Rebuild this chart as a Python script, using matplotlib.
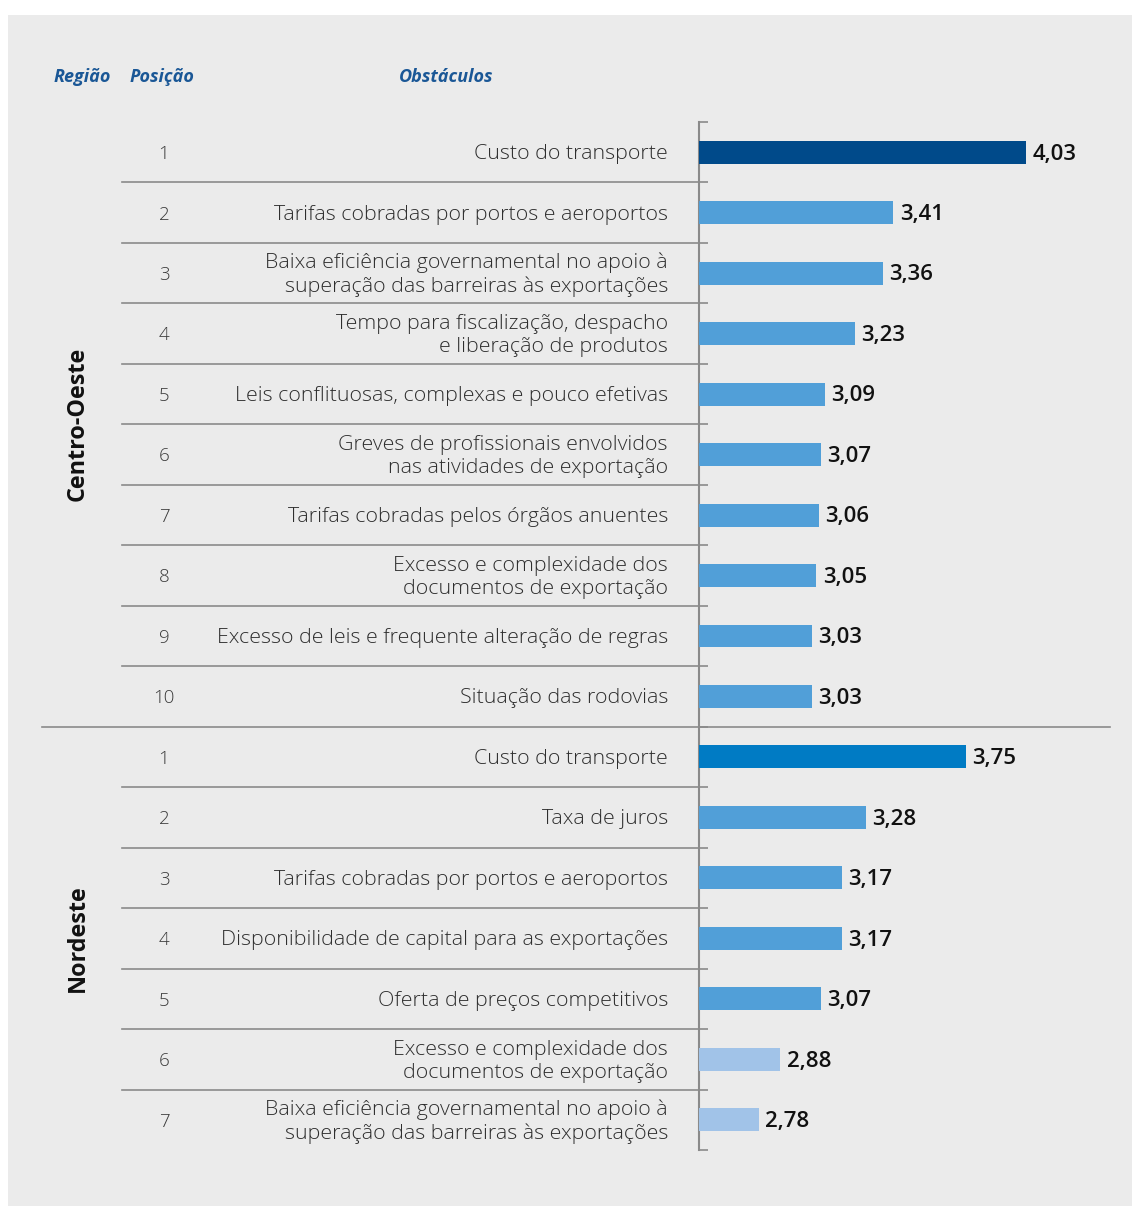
import matplotlib.pyplot as plt
import matplotlib.patches as patches
import matplotlib.transforms as transforms
from matplotlib.lines import Line2D

plt.rcParams['font.family'] = ['Open Sans', 'DejaVu Sans']

# Data
regions = ['Centro-Oeste', 'Nordeste']
region_sizes = [10, 7]
positions = ['1', '2', '3', '4', '5', '6', '7', '8', '9', '10',
             '1', '2', '3', '4', '5', '6', '7']
obstacles = [
    'Custo do transporte',
    'Tarifas cobradas por portos e aeroportos',
    'Baixa eficiência governamental no apoio à\nsuperação das barreiras às exportações',
    'Tempo para fiscalização, despacho\ne liberação de produtos',
    'Leis conflituosas, complexas e pouco efetivas',
    'Greves de profissionais envolvidos\nnas atividades de exportação',
    'Tarifas cobradas pelos órgãos anuentes',
    'Excesso e complexidade dos\ndocumentos de exportação',
    'Excesso de leis e frequente alteração de regras',
    'Situação das rodovias',
    'Custo do transporte',
    'Taxa de juros',
    'Tarifas cobradas por portos e aeroportos',
    'Disponibilidade de capital para as exportações',
    'Oferta de preços competitivos',
    'Excesso e complexidade dos\ndocumentos de exportação',
    'Baixa eficiência governamental no apoio à\nsuperação das barreiras às exportações',
]
values = [4.03, 3.41, 3.36, 3.23, 3.09, 3.07, 3.06, 3.05, 3.03, 3.03,
          3.75, 3.28, 3.17, 3.17, 3.07, 2.88, 2.78]
colors = ['#004a8a'] + ['#519fd8'] * 9 + ['#007bc4'] + ['#519fd8'] * 4 + ['#a1c3e8'] * 2

W, H = 1132, 1206
fig = plt.figure(figsize=(W / 100, H / 100), dpi=100, facecolor='white')
fig.patches.append(patches.Rectangle((8 / W, 0), 1, 1 - 15 / H, transform=fig.transFigure,
                                     facecolor='#ebebeb', edgecolor='none', zorder=-10))

ax_left = 699 / W
ax_right = (699 + 2.0 * 213.6) / W
ax_top = 1 - 122 / H
ax_bot = 1 - 1150 / H
ax = fig.add_axes([ax_left, ax_bot, ax_right - ax_left, ax_top - ax_bot])
ax.set_facecolor('none')

n = len(values)
ypos = [i + 0.5 for i in range(n)]
dy = 0.03  # small downward nudge for text
ax.barh(ypos, [v - 2.5 for v in values], left=2.5, height=0.38, color=colors, zorder=3)
for y, v in zip(ypos, values):
    ax.text(v + 0.03, y + dy, f'{v:.2f}'.replace('.', ','), va='center', ha='left',
            fontsize=16, fontweight='semibold', color='#111111')

ax.set_xlim(2.5, 4.5)
ax.set_ylim(n, 0)
for s in ['top', 'right', 'bottom']:
    ax.spines[s].set_visible(False)
ax.spines['left'].set_color('#8a8a8a')
ax.spines['left'].set_linewidth(1.5)
ax.set_xticks([])
ax.set_yticks(range(n + 1))
ax.set_yticklabels([])
ax.tick_params(axis='y', direction='in', length=6.5, width=1.2, color='#8a8a8a')

trans = transforms.blended_transform_factory(fig.transFigure, ax.transData)
for i, y in enumerate(ypos):
    ax.text(164 / W, y + dy, positions[i], transform=trans, ha='center', va='center',
            fontsize=13.5, fontweight='light', color='#3a3a3a')
    ax.text(668 / W, y + dy, obstacles[i], transform=trans, ha='right', va='center',
            fontsize=15.4, fontweight='light', color='#2e2e2e', linespacing=1.2)

# separator lines
start = 0
for gi, size in enumerate(region_sizes):
    for k in range(1, size):
        b = start + k
        fig.add_artist(Line2D([122 / W, ax_left], [b, b], transform=trans,
                              color='#8a8a8a', lw=1.2))
    start += size
    if gi < len(region_sizes) - 1:
        fig.add_artist(Line2D([42 / W, 1110 / W], [start, start], transform=trans,
                              color='#8a8a8a', lw=1.2))

# region labels
start = 0
for name, size in zip(regions, region_sizes):
    ax.text(78 / W, start + size / 2, name, transform=trans, rotation=90,
            ha='center', va='center', fontsize=16.8, fontweight='bold', color='#111111')
    start += size

# headers
hy = 1 - 77 / H
hdr = dict(fontsize=13, fontweight='bold', fontstyle='italic', color='#1a5796', va='center')
fig.text(82 / W, hy, 'Região', ha='center', **hdr)
fig.text(162 / W, hy, 'Posição', ha='center', **hdr)
fig.text(446 / W, hy, 'Obstáculos', ha='center', **hdr)

fig.savefig('out.png', dpi=100, facecolor=fig.get_facecolor())
